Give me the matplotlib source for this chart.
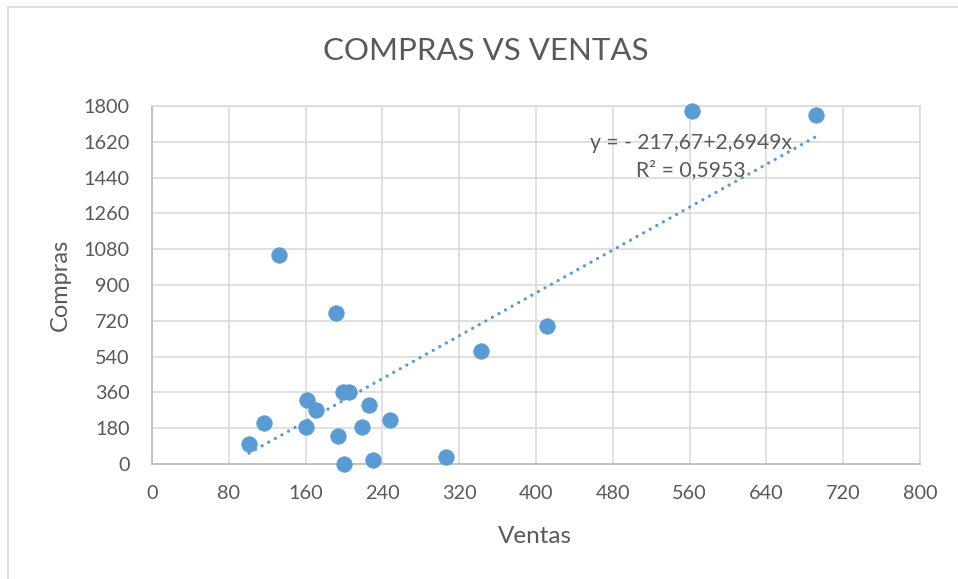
import matplotlib
matplotlib.use("Agg")
import matplotlib.pyplot as plt
from matplotlib.lines import Line2D
import numpy as np

# ---- data ----
ventas = [132, 192, 161, 171, 199, 205, 226, 117, 160, 219, 248, 194, 101, 200, 230, 306, 562, 692, 411, 343]
compras = [1051, 760, 322, 271, 360, 363, 299, 204, 184, 187, 222, 142, 100, 0, 20, 37, 1775, 1757, 696, 570]
trend_intercept = -217.67
trend_slope = 2.6949
r_squared = "0,5953"
x_ticks = [0, 80, 160, 240, 320, 400, 480, 560, 640, 720, 800]
y_ticks = [0, 180, 360, 540, 720, 900, 1080, 1260, 1440, 1620, 1800]
title = "COMPRAS VS VENTAS"
x_label = "Ventas"
y_label = "Compras"

# ---- style ----
plt.rcParams['font.family'] = ['Lato', 'DejaVu Sans']
TXT = '#595959'
BLUE = '#5b9bd5'
GRID = '#d9d9d9'
AXIS = '#bfbfbf'

W, H = 958, 579
fig = plt.figure(figsize=(W / 100, H / 100), dpi=100)
ax = fig.add_axes([152 / W, 1 - 464 / H, (920 - 152) / W, (464 - 106) / H])

ax.set_xlim(x_ticks[0], x_ticks[-1])
ax.set_ylim(y_ticks[0], y_ticks[-1])
ax.set_xticks(x_ticks)
ax.set_yticks(y_ticks)
ax.grid(True, color=GRID, linewidth=1.1, zorder=0)
ax.set_axisbelow(True)
for s in ['top', 'right']:
    ax.spines[s].set_color(GRID)
    ax.spines[s].set_linewidth(1.1)
for s in ['left', 'bottom']:
    ax.spines[s].set_color(AXIS)
    ax.spines[s].set_linewidth(1.3)
ax.tick_params(axis='both', length=0, labelsize=14.3, labelcolor=TXT)
ax.tick_params(axis='y', pad=16)
ax.tick_params(axis='x', pad=15)

ax.scatter(ventas, compras, s=125, color=BLUE, edgecolors=BLUE, linewidths=0.5, zorder=3, clip_on=False)

xt = np.array([min(ventas), max(ventas)])
yt = trend_intercept + trend_slope * xt
ax.plot(xt, yt, color=BLUE, linewidth=2.4, linestyle=(0, (0.01, 2.25)),
        dash_capstyle='round', zorder=4)

eq = f"y = - {abs(trend_intercept):.2f}+{trend_slope:.4f}x".replace('.', ',')
ax.text(0.702, 0.858, eq + "\nR\u00b2 = " + r_squared, transform=ax.transAxes,
        ha='center', va='center', multialignment='center', linespacing=1.45,
        fontsize=15.2, color=TXT, zorder=5)

fig.text(486 / W, 1 - 60 / H, title, ha='center', va='baseline', fontsize=22.5, color=TXT)
fig.text(535 / W, 1 - 543 / H, x_label, ha='center', va='baseline', fontsize=17.5, color=TXT)
fig.text(60 / W, 1 - 285 / H, y_label, ha='center', va='center', rotation=90, fontsize=17, color=TXT)

# outer chart border (top and left edges visible)
fig.add_artist(Line2D([8 / W, 8 / W], [0, 1 - 7 / H], transform=fig.transFigure, color=GRID, linewidth=1.2))
fig.add_artist(Line2D([8 / W, 1], [1 - 7 / H, 1 - 7 / H], transform=fig.transFigure, color=GRID, linewidth=1.2))

fig.savefig("out.png", dpi=100, facecolor='white')
